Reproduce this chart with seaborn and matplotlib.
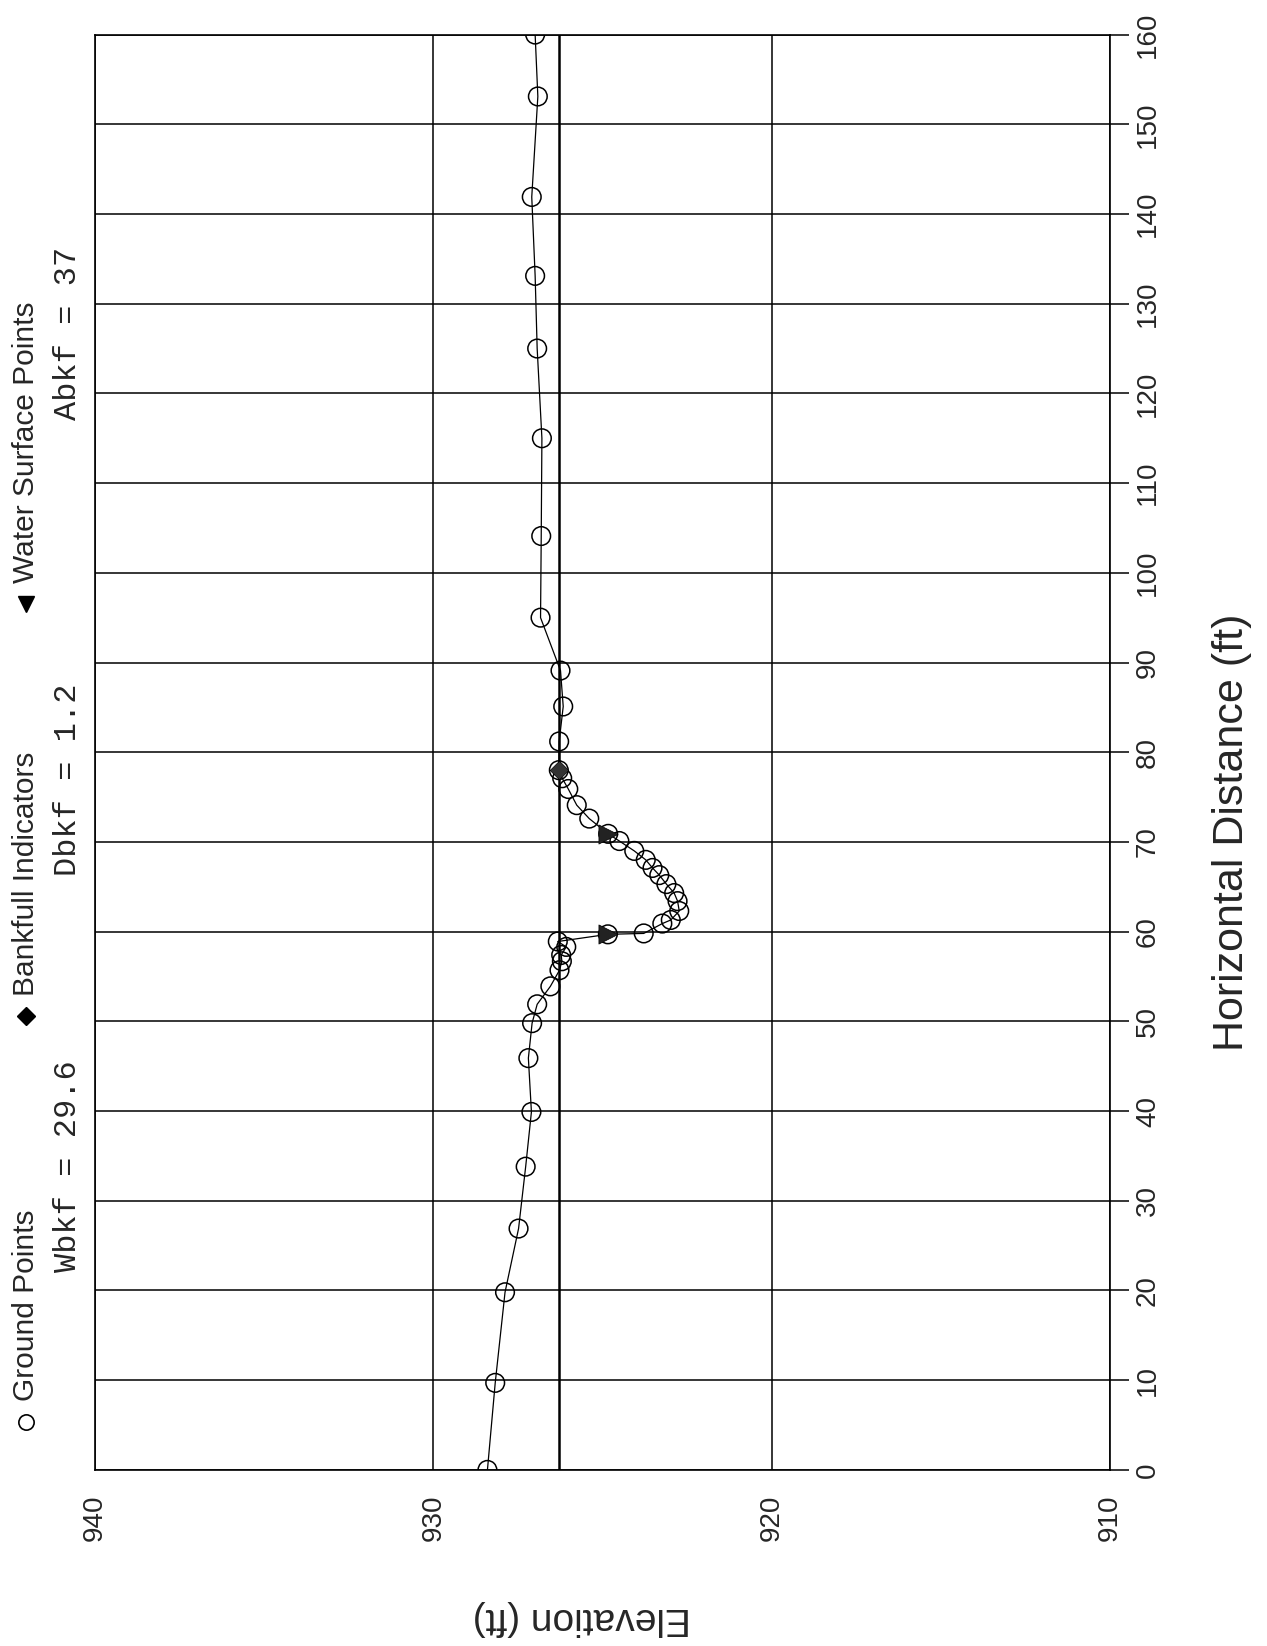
import numpy as np
import pandas as pd
import matplotlib
matplotlib.use('Agg')
import matplotlib.pyplot as plt
from matplotlib.lines import Line2D
import seaborn as sns

# cross-section survey (distance along section, ft / elevation, ft)
distance = [0, 9.7, 19.8, 26.9, 33.8, 39.9, 45.9, 49.8, 51.9, 53.9,
            55.7, 56.7, 57.4, 58.3, 58.9, 59.7, 59.8, 60.9, 61.3, 62.3,
            63.4, 64.3, 65.3, 66.3, 67.1, 68.0, 69.0, 70.1, 70.9, 72.6,
            74.1, 75.9, 77.1, 78.0, 81.2, 85.1, 89.1, 95.0, 104.1, 115.0,
            125.0, 133.1, 141.9, 153.1, 160.0]
elevation = [928.40, 928.17, 927.88, 927.48, 927.27, 927.10, 927.19, 927.08, 926.93, 926.54,
             926.27, 926.20, 926.22, 926.07, 926.32, 924.84, 923.78, 923.23, 922.98, 922.73,
             922.78, 922.88, 923.11, 923.32, 923.52, 923.72, 924.06, 924.50, 924.83, 925.39,
             925.76, 926.01, 926.19, 926.29, 926.28, 926.16, 926.24, 926.83, 926.81, 926.79,
             926.93, 926.99, 927.09, 926.91, 926.99]

bankfull_dist = [78.0]
bankfull_elev = [926.29]
water_dist = [59.7, 70.9]
water_elev = [924.84, 924.83]
bankfull_stage = 926.27

elev_ticks = [940, 930, 920, 910]
dist_ticks = list(range(0, 161, 10))

legend_labels = ['Ground Points', 'Bankfull Indicators', 'Water Surface Points']
stats = ['Wbkf = 29.6', 'Dbkf = 1.2', 'Abkf = 37']

ground = pd.DataFrame({'dist': distance, 'elev': elevation})

sns.set_style('white')
plt.rcParams['font.family'] = ['Liberation Sans', 'DejaVu Sans']

fig = plt.figure(figsize=(12.67, 16.46), dpi=100)
ax = fig.add_axes([0.075, 0.107, 0.801, 0.872])

# the page is printed sideways: elevation runs right-to-left, distance bottom-to-top
ax.axvline(bankfull_stage, color='black', lw=1.8, zorder=2)
sns.lineplot(ax=ax, data=ground, x='elev', y='dist', sort=False, estimator=None,
             color='black', lw=0.9, zorder=3)
sns.scatterplot(ax=ax, data=ground, x='elev', y='dist', marker='o', s=180,
                edgecolor='black', linewidth=1.1, zorder=4)
ax.collections[-1].set_facecolor('none')
sns.scatterplot(ax=ax, x=water_elev, y=water_dist, marker='>', s=190,
                color='#222222', edgecolor='black', linewidth=0.5, zorder=5)
sns.scatterplot(ax=ax, x=bankfull_elev, y=bankfull_dist, marker='D', s=90,
                color='#333333', edgecolor='black', linewidth=0.5, zorder=6)

ax.set_xlim(940, 910)
ax.set_ylim(0, 160)
ax.set_xticks(elev_ticks)
ax.set_yticks(dist_ticks)
ax.grid(True, color='black', lw=1.1)
for s in ax.spines.values():
    s.set_color('black')
    s.set_linewidth(1.2)

ax.yaxis.tick_right()
ax.tick_params(axis='both', direction='out', length=14, width=1.1, color='black',
               labelsize=20, pad=4)
plt.setp(ax.get_xticklabels(), rotation=90, va='top', ha='center')
plt.setp(ax.get_yticklabels(), rotation=90, va='center', ha='left')

ax.set_xlabel('Elevation (ft)', fontsize=28, rotation=180)
ax.xaxis.set_label_coords(0.48, -0.103)
ax.xaxis.label.set_va('center')
ax.set_ylabel('Horizontal Distance (ft)', fontsize=31, rotation=90)
ax.yaxis.set_label_position('right')
ax.yaxis.set_label_coords(1.12, 0.444)
ax.yaxis.label.set_va('center')

# legend strip along the left edge: symbol, then sideways label
sym_style = [dict(marker='o', mfc='none', mec='black', ms=11, mew=1.2),
             dict(marker='D', mfc='black', mec='black', ms=9),
             dict(marker='v', mfc='black', mec='black', ms=11)]
sym_y = [0.136, 0.383, 0.633]
lab_y = [0.149, 0.395, 0.646]
for st, lab, y0, y1 in zip(sym_style, legend_labels, sym_y, lab_y):
    fig.add_artist(Line2D([0.0207], [y0], transform=fig.transFigure, ls='none', **st))
    fig.text(0.0207, y1, lab, fontsize=21.5, rotation=90, ha='center', va='bottom')

for s, y in zip(stats, [0.227, 0.468, 0.745]):
    fig.text(0.054, y, s, fontsize=23, rotation=90, ha='center', va='bottom',
             family=['Liberation Mono', 'DejaVu Sans Mono'])

plt.savefig('out.png', dpi=100, facecolor='white')
